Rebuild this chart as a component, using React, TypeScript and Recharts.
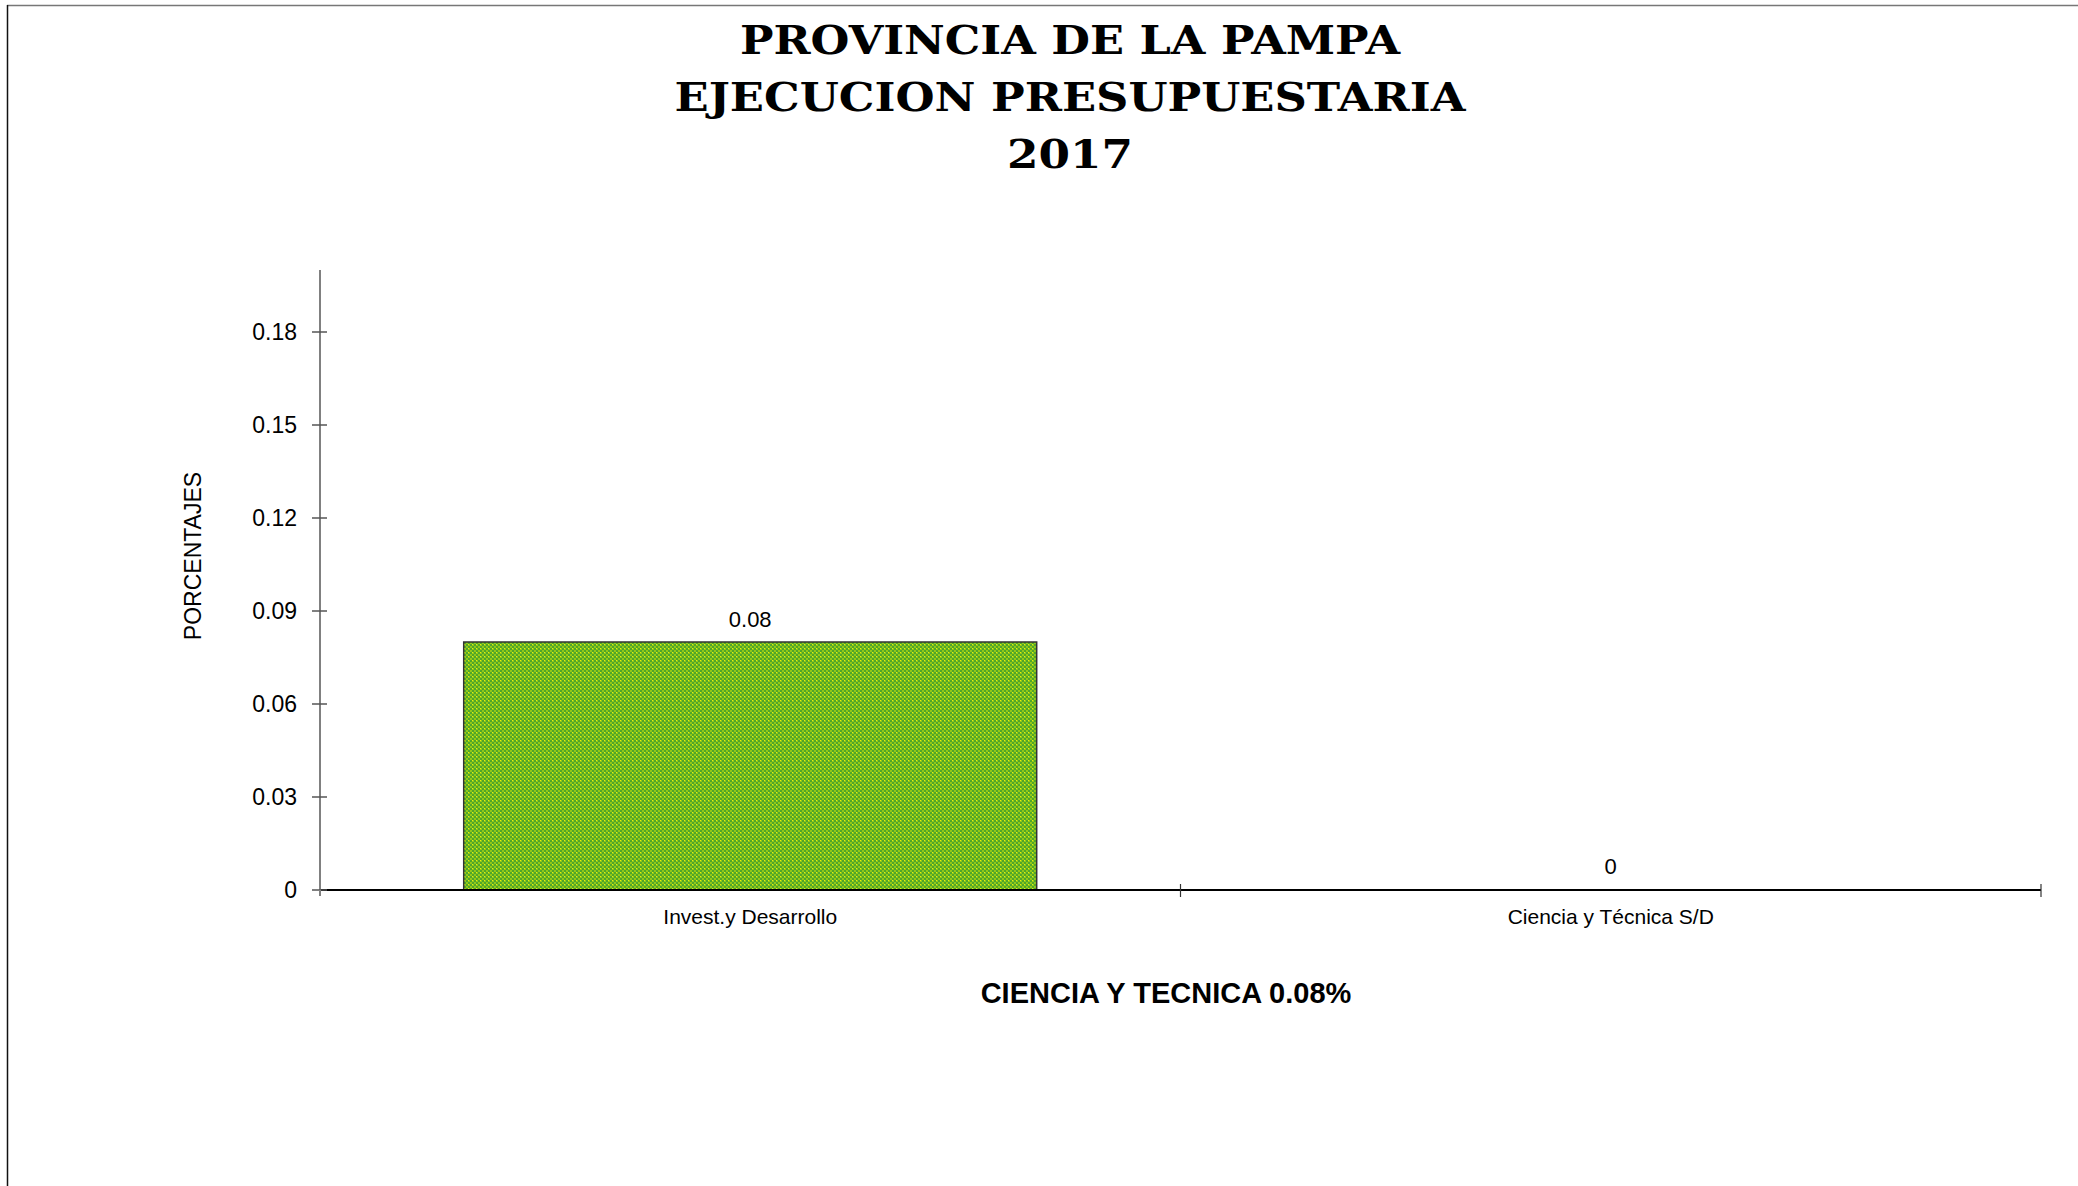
import { BarChart, Bar, XAxis, YAxis, LabelList, Rectangle } from "recharts";

const categories = ["Invest.y Desarrollo", "Ciencia y Técnica S/D"];
const porcentajes = [0.08, 0];
const yTicks = [0, 0.03, 0.06, 0.09, 0.12, 0.15, 0.18];
const titleLines = ["PROVINCIA DE LA PAMPA", "EJECUCION PRESUPUESTARIA", "2017"];

const data = categories.map((name, i) => ({ name, value: porcentajes[i] }));

const W = 2078;
const H = 1186;
const MARGIN = { top: 270, right: 37, bottom: 236, left: 200 };
const Y_AXIS_W = 120;
const X_AXIS_H = 60;
const AXIS_X = MARGIN.left + Y_AXIS_W;
const AXIS_Y = H - MARGIN.bottom - X_AXIS_H;
const BAND = (W - MARGIN.right - AXIS_X) / categories.length;
const SANS = "'Liberation Sans', Arial, Helvetica, sans-serif";

const YTick = (props: any) => {
  const { y, payload } = props;
  const v = payload.value;
  return (
    <g>
      <line x1={AXIS_X - 8} x2={AXIS_X + 7} y1={y} y2={y} stroke="#555" strokeWidth={1.5} />
      {v === 0 && <line x1={AXIS_X} x2={AXIS_X} y1={y} y2={y + 6} stroke="#808080" strokeWidth={2} />}
      <text x={AXIS_X - 23} y={y} textAnchor="end" dominantBaseline="central" fontSize={23} fontFamily={SANS} fill="#000">
        {v === 0 ? "0" : v.toFixed(2)}
      </text>
    </g>
  );
};

const XTick = (props: any) => {
  const { x, payload } = props;
  const right = x + BAND / 2;
  return (
    <g>
      <line x1={right} x2={right} y1={AXIS_Y - 6} y2={AXIS_Y + 7} stroke="#333" strokeWidth={1.2} />
      <text x={x} y={AXIS_Y + 26} textAnchor="middle" dominantBaseline="central" fontSize={21} fontFamily={SANS} fill="#000">
        {payload.value}
      </text>
    </g>
  );
};

// zero bars are kept (minPointSize) so the label shows, but not drawn
const BarShape = (props: any) => {
  if (!props.payload || props.payload.value <= 0) return <g />;
  return <Rectangle {...props} />;
};

const ValueLabel = (props: any) => {
  const { x, y, width, height, value } = props;
  const top = Math.min(Number(y), Number(y) + Number(height));
  return (
    <text x={Number(x) + Number(width) / 2} y={top - 15} textAnchor="middle" fontSize={22} fontFamily={SANS} fill="#000">
      {String(value)}
    </text>
  );
};

export default function App() {
  return (
    <div style={{ position: "absolute", left: 0, top: 0, width: W, height: H, background: "#fff" }}>
      <BarChart width={W} height={H} data={data} margin={MARGIN} barCategoryGap="16.7%">
        <defs>
          <pattern id="verde" width={4} height={4} patternUnits="userSpaceOnUse">
            <rect width={4} height={4} fill="#4fa62a" />
            <rect x={0} y={0} width={2} height={2} fill="#92c818" />
            <rect x={2} y={2} width={2} height={2} fill="#92c818" />
            <rect x={0} y={0} width={1} height={1} fill="#e6f00c" />
          </pattern>
        </defs>
        <XAxis
          dataKey="name"
          height={X_AXIS_H}
          axisLine={{ stroke: "#000", strokeWidth: 2 }}
          tickLine={false}
          tick={<XTick />}
          interval={0}
        />
        <YAxis
          width={Y_AXIS_W}
          domain={[0, 0.2]}
          ticks={yTicks}
          axisLine={{ stroke: "#808080", strokeWidth: 2 }}
          tickLine={false}
          tick={<YTick />}
          allowDataOverflow
        />
        <Bar
          dataKey="value"
          fill="url(#verde)"
          stroke="#333"
          strokeWidth={1.5}
          minPointSize={1}
          shape={BarShape}
          isAnimationActive={false}
        >
          <LabelList dataKey="value" content={ValueLabel} />
        </Bar>
      </BarChart>
      <svg width={W} height={H} style={{ position: "absolute", left: 0, top: 0, pointerEvents: "none" }}>
        <line x1={7} x2={W} y1={5.5} y2={5.5} stroke="#777" strokeWidth={1.5} />
        <line x1={7.5} x2={7.5} y1={5} y2={H} stroke="#111" strokeWidth={1.5} />
        {titleLines.map((t, i) => (
          <text
            key={t}
            x={1070}
            y={54 + i * 57}
            textAnchor="middle"
            fontSize={39}
            fontWeight="bold"
            fontFamily="'DejaVu Serif', 'Liberation Serif', serif"
            textLength={[660, 791, 126][i]}
            lengthAdjust="spacingAndGlyphs"
            fill="#000"
          >
            {t}
          </text>
        ))}
        <text
          x={192.5}
          y={556}
          dy={8.3}
          transform="rotate(-90, 192.5, 556)"
          textAnchor="middle"
          fontSize={23}
          fontFamily={SANS}
          fill="#000"
        >
          PORCENTAJES
        </text>
        <text x={1166} y={1003} textAnchor="middle" fontSize={29} fontWeight="bold" fontFamily={SANS} fill="#000">
          CIENCIA Y TECNICA 0.08%
        </text>
      </svg>
    </div>
  );
}
